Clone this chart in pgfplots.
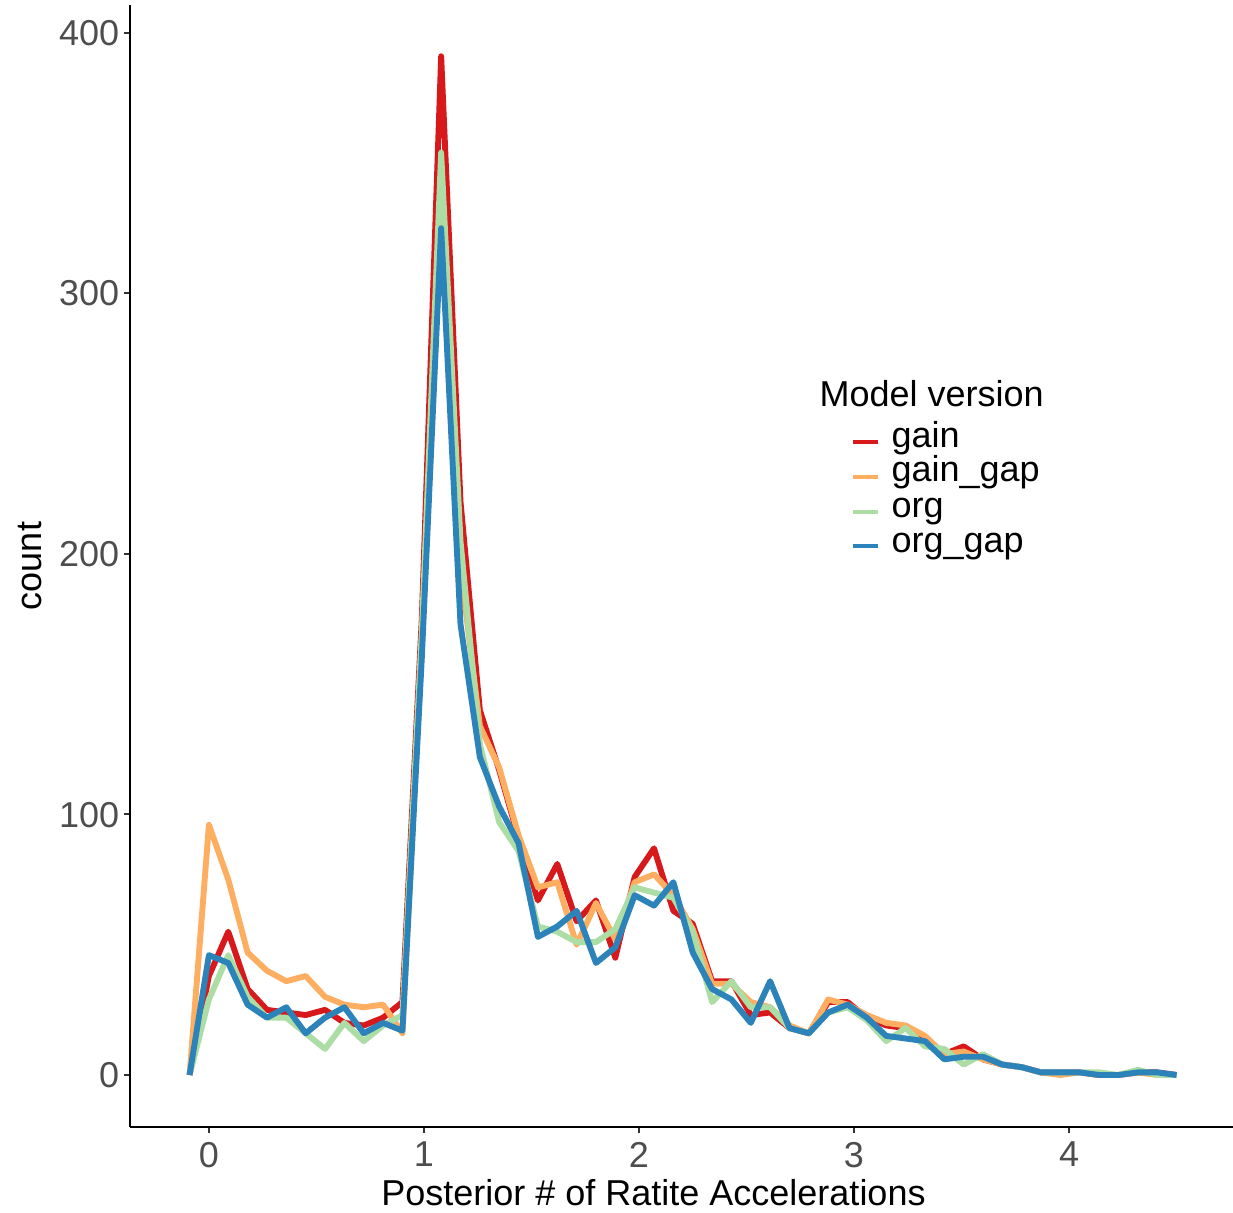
\documentclass[border=0pt]{standalone}
\usepackage{pgfplots}
\pgfplotsset{compat=1.18}
\usepackage{fontspec}
\setmainfont{Liberation Sans}
\definecolor{cgain}{HTML}{D7191C}
\definecolor{cgaingap}{HTML}{FDAE61}
\definecolor{corg}{HTML}{ABDDA4}
\definecolor{corggap}{HTML}{2B83BA}
\definecolor{gray30}{HTML}{4D4D4D}
\definecolor{gray20}{HTML}{333333}
\newcommand{\fs}{\fontsize{11}{13}\selectfont}
\begin{document}
\begin{tikzpicture}[x=0.3056pt,y=0.3056pt]
\path[use as bounding box] (0,0) rectangle (1233,1212);
\begin{axis}[
  at={(39.73pt,25.98pt)}, anchor=south west,
  width=337.1pt, height=342.9pt, scale only axis,
  xmin=-0.367, xmax=4.763, ymin=-19.96, ymax=410.7,
  axis x line*=bottom, axis y line*=left,
  axis line style={-, line width=0.6pt, black},
  xtick={0,1,2,3,4}, ytick={0,100,200,300,400},
  tick align=outside, major tick length=1.9pt,
  tick style={line width=0.6pt, gray20},
  every tick label/.append style={font=\fs, text=gray30},
  /pgf/number format/assume math mode=true,
  xticklabel style={anchor=north, inner sep=0pt, text depth=0pt, yshift=-2.45pt},
  yticklabel style={anchor=east, inner sep=0pt, text depth=0pt, xshift=-1.2pt},
  line join=round,
]
\addplot[cgain, line width=1.8pt] coordinates {
(-0.09,0) (0.00,38) (0.09,55) (0.18,33) (0.27,25) (0.36,24) (0.45,23) (0.54,25) (0.63,20) (0.72,19) (0.81,22) (0.90,28)
(0.99,175) (1.08,391) (1.17,220) (1.26,140) (1.35,117) (1.44,91) (1.53,67) (1.62,81) (1.71,59) (1.80,67) (1.89,45) (1.98,76)
(2.07,87) (2.16,63) (2.25,58) (2.34,36) (2.43,36) (2.52,23) (2.61,24) (2.70,18) (2.79,16) (2.88,28) (2.97,28) (3.06,22)
(3.15,19) (3.24,18) (3.33,14) (3.42,8) (3.51,11) (3.60,6) (3.69,4) (3.78,3) (3.87,1) (3.96,1) (4.05,1) (4.14,0)
(4.23,0) (4.32,1) (4.41,1) (4.50,0)};
\addplot[cgaingap, line width=1.8pt] coordinates {
(-0.09,0) (0.00,96) (0.09,75) (0.18,47) (0.27,40) (0.36,36) (0.45,38) (0.54,30) (0.63,27) (0.72,26) (0.81,27) (0.90,16)
(0.99,165) (1.08,330) (1.17,195) (1.26,134) (1.35,118) (1.44,92) (1.53,72) (1.62,74) (1.71,50) (1.80,66) (1.89,52) (1.98,74)
(2.07,77) (2.16,69) (2.25,56) (2.34,35) (2.43,35) (2.52,28) (2.61,26) (2.70,19) (2.79,16) (2.88,29) (2.97,27) (3.06,23)
(3.15,20) (3.24,19) (3.33,15) (3.42,8) (3.51,9) (3.60,6) (3.69,4) (3.78,3) (3.87,1) (3.96,0) (4.05,1) (4.14,0)
(4.23,0) (4.32,1) (4.41,0) (4.50,0)};
\addplot[corg, line width=1.8pt] coordinates {
(-0.09,0) (0.00,29) (0.09,46) (0.18,30) (0.27,22) (0.36,22) (0.45,16) (0.54,10) (0.63,20) (0.72,13) (0.81,19) (0.90,23)
(0.99,170) (1.08,354) (1.17,205) (1.26,127) (1.35,97) (1.44,86) (1.53,57) (1.62,55) (1.71,51) (1.80,51) (1.89,56) (1.98,72)
(2.07,70) (2.16,68) (2.25,55) (2.34,28) (2.43,36) (2.52,26) (2.61,26) (2.70,18) (2.79,16) (2.88,24) (2.97,26) (3.06,21)
(3.15,13) (3.24,18) (3.33,11) (3.42,10) (3.51,4) (3.60,8) (3.69,4) (3.78,3) (3.87,1) (3.96,1) (4.05,1) (4.14,1)
(4.23,0) (4.32,2) (4.41,0) (4.50,0)};
\addplot[corggap, line width=1.8pt] coordinates {
(-0.09,0) (0.00,46) (0.09,43) (0.18,27) (0.27,22) (0.36,26) (0.45,16) (0.54,22) (0.63,26) (0.72,16) (0.81,20) (0.90,17)
(0.99,160) (1.08,325) (1.17,173) (1.26,122) (1.35,103) (1.44,89) (1.53,53) (1.62,57) (1.71,63) (1.80,43) (1.89,49) (1.98,69)
(2.07,65) (2.16,74) (2.25,47) (2.34,33) (2.43,29) (2.52,20) (2.61,36) (2.70,18) (2.79,16) (2.88,24) (2.97,27) (3.06,22)
(3.15,15) (3.24,14) (3.33,13) (3.42,6) (3.51,7) (3.60,7) (3.69,4) (3.78,3) (3.87,1) (3.96,1) (4.05,1) (4.14,0)
(4.23,0) (4.32,1) (4.41,1) (4.50,0)};
\end{axis}
% axis titles
\node[anchor=base, font=\fs, inner sep=0pt] at (653.5,7) {Posterior \# of Ratite Accelerations};
\node[anchor=base, rotate=90, font=\fs, inner sep=0pt] at (41,646) {count};
% legend
\node[anchor=base west, font=\fs, inner sep=0pt] at (819,805) {Model version};
\draw[cgain, line width=1.5pt] (853,770) -- (878,770);
\draw[cgaingap, line width=1.5pt] (853,735) -- (878,735);
\draw[corg, line width=1.5pt] (853,700) -- (878,700);
\draw[corggap, line width=1.5pt] (853,666) -- (878,666);
\node[anchor=base west, font=\fs, inner sep=0pt] at (891,765) {gain};
\node[anchor=base west, font=\fs, inner sep=0pt] at (891,730) {gain\_gap};
\node[anchor=base west, font=\fs, inner sep=0pt] at (891,695) {org};
\node[anchor=base west, font=\fs, inner sep=0pt] at (891,660) {org\_gap};
\end{tikzpicture}
\end{document}
